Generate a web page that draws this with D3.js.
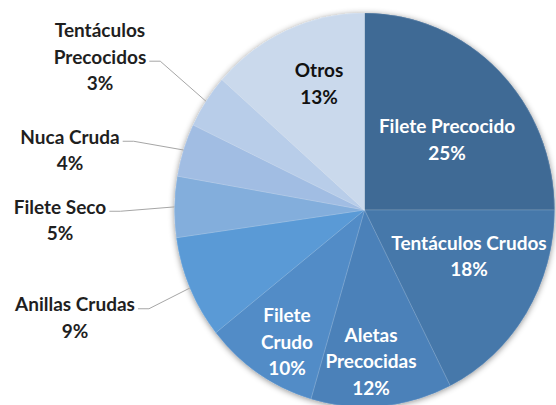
<!DOCTYPE html>
<html><head><meta charset="utf-8">
<script src="https://cdn.jsdelivr.net/npm/d3@7"></script>
<style>
html,body{margin:0;padding:0;background:#fff;}
svg{display:block;}
text{font-family:Lato,"Open Sans",sans-serif;font-weight:bold;}
</style></head>
<body>
<svg id="chart" width="556" height="405"></svg>
<script>
const categories = ["Filete Precocido","Tentáculos Crudos","Aletas Precocidas","Filete Crudo","Anillas Crudas","Filete Seco","Nuca Cruda","Tentáculos Precocidos","Otros"];
const values = [25, 17.55, 12.0, 9.75, 8.45, 5.0, 4.35, 4.4, 13.5];
const pctLabels = ["25%","18%","12%","10%","9%","5%","4%","3%","13%"];
const colors = ["#3F6A95","#4678AA","#4B81B9","#528CC7","#5A9AD6","#83AEDC","#A1BDE3","#B8CDE9","#CAD9EC"];

// label layout (offsets of text block centers from pie centre, and line breaks)
const labelLines = [["Filete Precocido"],["Tentáculos Crudos"],["Aletas","Precocidas"],["Filete","Crudo"],["Anillas Crudas"],["Filete Seco"],["Nuca Cruda"],["Tentáculos","Precocidos"],["Otros"]];
const labelOffsets = [[82.5,-70.5],[104.5,46],[6.5,151],[-77.5,131.5],[-289.5,107.5],[-304.5,10],[-294.5,-60],[-264.5,-153.3],[-45.5,-126.7]];
const labelColor = ["#fff","#fff","#fff","#fff","#1f1f1f","#1f1f1f","#1f1f1f","#1f1f1f","#111"];
const outside = [false,false,false,false,true,true,true,true,false];

const W=556,H=405, cx=364.5, cy=210, r=190, sy=197/190;
const svg=d3.select("#chart");
const defs=svg.append("defs");
const f=defs.append("filter").attr("id","sh").attr("x","-20%").attr("y","-20%").attr("width","140%").attr("height","140%");
f.append("feDropShadow").attr("dx",0).attr("dy",1).attr("stdDeviation",3).attr("flood-color","#000").attr("flood-opacity",0.45);

const pie=d3.pie().sort(null).value(d=>d);
const arcs=pie(values);
const arc=d3.arc().innerRadius(0).outerRadius(r);

const g=svg.append("g").attr("transform",`translate(${cx},${cy}) scale(1,${sy})`);
g.append("g").attr("filter","url(#sh)").selectAll("path").data(arcs).join("path")
  .attr("d",arc).attr("fill",(d,i)=>colors[i]);
g.append("g").selectAll("path").data(arcs).join("path")
  .attr("d",arc).attr("fill",(d,i)=>colors[i])
  .attr("stroke","#ffffff").attr("stroke-opacity",0.25).attr("stroke-width",0.6);

const fs=19, lh=26.5;
const lg=svg.append("g");
arcs.forEach((a,i)=>{
  const lines=labelLines[i].concat([pctLabels[i]]);
  const bx=cx+labelOffsets[i][0], by=cy+labelOffsets[i][1];
  const n=lines.length;
  const t=lg.append("text").attr("text-anchor","middle").attr("font-size",fs).attr("fill",labelColor[i]);
  lines.forEach((s,k)=>{
    t.append("tspan").attr("x",bx).attr("y",by+(k-(n-1)/2)*lh+7).text(s);
  });
  if(outside[i]){
    const mid=(a.startAngle+a.endAngle)/2;
    const ex=cx+r*Math.sin(mid), ey=cy-r*Math.cos(mid)*sy;
    const tsp=t.selectAll("tspan").nodes();
    const ref=tsp[n-2];
    const bb=ref.getBBox();
    const ly=bb.y+bb.height/2+5;
    const x0=bb.x+bb.width+3, x1=x0+11;
    lg.append("path").attr("d",`M${x0},${ly}L${x1},${ly}L${ex},${ey}`)
      .attr("fill","none").attr("stroke","#A6A6A6").attr("stroke-width",1);
  }
});
</script>
</body></html>
